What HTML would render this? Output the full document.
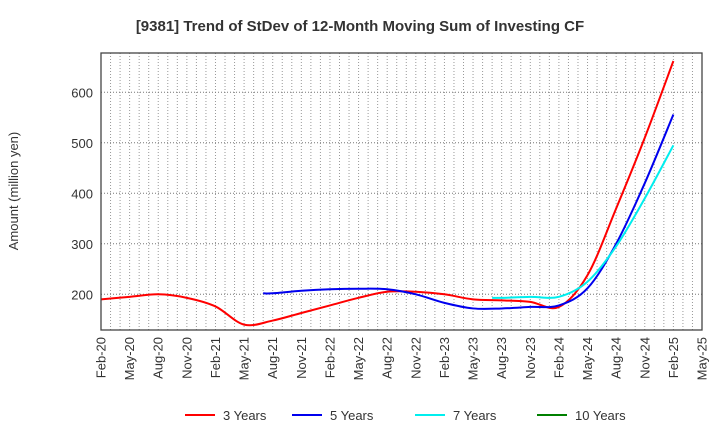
<!DOCTYPE html>
<html><head><meta charset="utf-8"><style>
body{margin:0;background:#fff;font-family:"Liberation Sans",Arial,sans-serif}
</style></head><body>
<svg id="c" width="720" height="440" xmlns="http://www.w3.org/2000/svg">
<text x="360" y="31" text-anchor="middle" font-size="15" font-weight="bold" fill="#333">[9381]  Trend of StDev of 12-Month Moving Sum of Investing CF</text>
<text transform="translate(18,191) rotate(-90)" text-anchor="middle" font-size="13" fill="#333">Amount (million yen)</text>
<g id="grid"></g><g id="series"></g><g id="axes"></g>
<g>
<line x1="185" y1="415" x2="215" y2="415" stroke="#ff0000" stroke-width="2"/><text x="223" y="420" font-size="13" fill="#333">3 Years</text>
<line x1="292" y1="415" x2="322" y2="415" stroke="#0000ee" stroke-width="2"/><text x="330" y="420" font-size="13" fill="#333">5 Years</text>
<line x1="415" y1="415" x2="445" y2="415" stroke="#00eeee" stroke-width="2"/><text x="453" y="420" font-size="13" fill="#333">7 Years</text>
<line x1="537" y1="415" x2="567" y2="415" stroke="#008000" stroke-width="2"/><text x="575" y="420" font-size="13" fill="#333">10 Years</text>
</g>
</svg>
<script>
const xTickLabels=["Feb-20","May-20","Aug-20","Nov-20","Feb-21","May-21","Aug-21","Nov-21","Feb-22","May-22","Aug-22","Nov-22","Feb-23","May-23","Aug-23","Nov-23","Feb-24","May-24","Aug-24","Nov-24","Feb-25","May-25"];
const yTicks=[200,300,400,500,600];
const red3Months=[0,3,6,9,12,15,18,21,24,27,30,33,36,39,42,45,48,51,54,57,60];
const red3Values=[190,195,200,193,176,140,148,163,178,193,205,205,200,190,188,185,175,238,370,510,662];
const blue5Months=[17,18,21,24,27,30,33,36,39,42,45,48,51,54,57,60];
const blue5Values=[202,202,207,210,211,210,200,183,172,172,175,178,212,300,420,556];
const cyan7Months=[41,42,45,48,51,54,57,60];
const cyan7Values=[193,193,195,195,225,295,390,495];
const L=101,R=702,T=53,B=330,NM=63;
const xs=m=>L+(R-L)*m/NM;
const ys=v=>294.3-(v-200)*0.505;
const NS="http://www.w3.org/2000/svg";
function mk(tag,attrs,parent){const e=document.createElementNS(NS,tag);for(const k in attrs)e.setAttribute(k,attrs[k]);parent.appendChild(e);return e;}
const grid=document.getElementById('grid'),axes=document.getElementById('axes'),ser=document.getElementById('series');
for(let m=1;m<NM;m++){const l=mk('line',{x1:xs(m),x2:xs(m),y1:T,y2:B,stroke:'#999','stroke-width':1,'stroke-dasharray':'1,2'},grid);

}
yTicks.forEach(v=>{const l=mk('line',{x1:L,x2:R,y1:ys(v),y2:ys(v),stroke:'#777','stroke-width':1,'stroke-dasharray':'1,2'},grid);


const t=mk('text',{x:L-8,y:ys(v)+5,'text-anchor':'end','font-size':13,fill:'#333'},axes);t.textContent=v;

});
const fr=mk('rect',{x:L,y:T,width:R-L,height:B-T,fill:'none',stroke:'#444','stroke-width':1.3},axes);


xTickLabels.forEach((s,i)=>{const x=xs(i*3);const t=mk('text',{transform:`translate(${x+4.5},337) rotate(-90)`,'text-anchor':'end','font-size':13,fill:'#333'},axes);t.textContent=s;

});
function path(ms,vs,color,name){const p=ms.map((m,i)=>[xs(m),ys(vs[i])]);let d=`M${p[0][0]},${p[0][1]}`;
for(let i=0;i<p.length-1;i++){const p0=p[i-1]||p[i],p1=p[i],p2=p[i+1],p3=p[i+2]||p2;
const c1=[p1[0]+(p2[0]-p0[0])/6,p1[1]+(p2[1]-p0[1])/6],c2=[p2[0]-(p3[0]-p1[0])/6,p2[1]-(p3[1]-p1[1])/6];
d+=` C${c1[0]},${c1[1]} ${c2[0]},${c2[1]} ${p2[0]},${p2[1]}`;}
const e=mk('path',{d:d,fill:'none',stroke:color,'stroke-width':2},ser);

}
path(red3Months,red3Values,'#ff0000','line-3-years');
path(blue5Months,blue5Values,'#0000ee','line-5-years');
path(cyan7Months,cyan7Values,'#00eeee','line-7-years');
</script>
</body></html>
